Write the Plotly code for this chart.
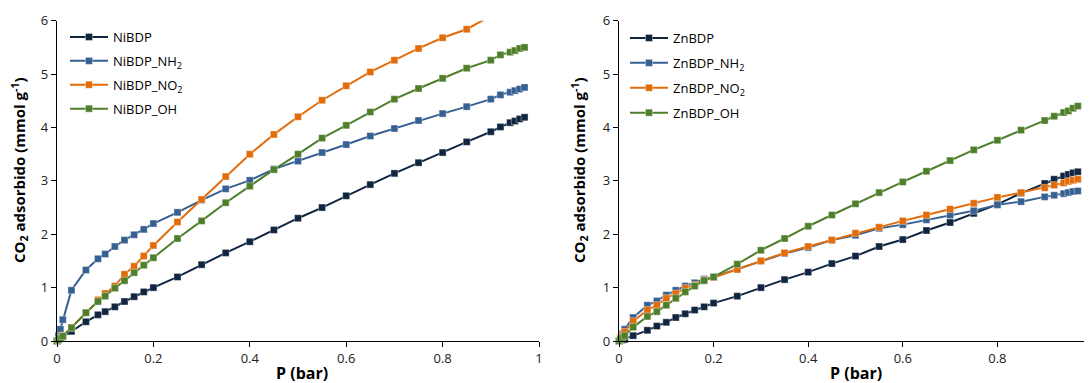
import plotly.graph_objects as go

# ---------------- data ----------------
p_ni = [0, 0.003, 0.007, 0.012, 0.03, 0.06, 0.085, 0.1, 0.12, 0.14, 0.16, 0.18, 0.2,
        0.25, 0.3, 0.35, 0.4, 0.45, 0.5, 0.55, 0.6, 0.65, 0.7, 0.75, 0.8, 0.85,
        0.9, 0.92, 0.94, 0.95, 0.96, 0.97]
nibdp = [0, 0.02, 0.05, 0.08, 0.18, 0.36, 0.49, 0.55, 0.64, 0.74, 0.83, 0.92, 1.0,
         1.2, 1.43, 1.65, 1.86, 2.08, 2.3, 2.5, 2.72, 2.93, 3.14, 3.34, 3.53, 3.73,
         3.92, 4.01, 4.09, 4.12, 4.16, 4.19]
nibdp_nh2 = [0, 0.1, 0.22, 0.4, 0.95, 1.33, 1.54, 1.63, 1.77, 1.89, 1.99, 2.09, 2.2,
             2.41, 2.64, 2.85, 3.01, 3.22, 3.37, 3.53, 3.68, 3.84, 3.98, 4.13, 4.26, 4.39,
             4.53, 4.61, 4.66, 4.69, 4.72, 4.75]
nibdp_no2 = [0, 0.03, 0.06, 0.1, 0.25, 0.53, 0.77, 0.89, 1.03, 1.25, 1.4, 1.59, 1.79,
             2.23, 2.65, 3.08, 3.5, 3.87, 4.2, 4.51, 4.78, 5.04, 5.26, 5.48, 5.68, 5.84,
             6.09, 6.14, 6.19, 6.21, 6.24, 6.27]
nibdp_oh = [0, 0.02, 0.05, 0.09, 0.25, 0.53, 0.74, 0.84, 0.99, 1.13, 1.28, 1.42, 1.56,
            1.92, 2.25, 2.59, 2.9, 3.21, 3.5, 3.8, 4.04, 4.29, 4.53, 4.73, 4.92, 5.11,
            5.26, 5.36, 5.41, 5.44, 5.48, 5.5]

p_zn = [0, 0.003, 0.007, 0.012, 0.03, 0.06, 0.08, 0.1, 0.12, 0.14, 0.16, 0.18, 0.2,
        0.25, 0.3, 0.35, 0.4, 0.45, 0.5, 0.55, 0.6, 0.65, 0.7, 0.75, 0.8, 0.85,
        0.9, 0.92, 0.94, 0.95, 0.96, 0.97]
znbdp = [0, 0.01, 0.02, 0.03, 0.1, 0.2, 0.28, 0.35, 0.44, 0.51, 0.58, 0.64, 0.71,
         0.84, 1.0, 1.15, 1.29, 1.45, 1.59, 1.77, 1.9, 2.07, 2.22, 2.39, 2.56, 2.77,
         2.95, 3.03, 3.09, 3.12, 3.15, 3.17]
znbdp_nh2 = [0, 0.06, 0.13, 0.22, 0.44, 0.67, 0.75, 0.86, 0.95, 1.03, 1.09, 1.16, 1.2,
             1.35, 1.5, 1.64, 1.75, 1.89, 1.98, 2.11, 2.18, 2.27, 2.36, 2.44, 2.55, 2.61,
             2.7, 2.73, 2.76, 2.78, 2.8, 2.81]
znbdp_no2 = [0, 0.05, 0.1, 0.17, 0.37, 0.58, 0.67, 0.8, 0.89, 0.99, 1.05, 1.14, 1.19,
             1.34, 1.5, 1.65, 1.77, 1.89, 2.02, 2.13, 2.25, 2.36, 2.47, 2.58, 2.69, 2.78,
             2.87, 2.92, 2.96, 2.99, 3.01, 3.03]
znbdp_oh = [0, 0.03, 0.06, 0.1, 0.26, 0.46, 0.55, 0.67, 0.8, 0.92, 1.03, 1.13, 1.2,
            1.44, 1.7, 1.92, 2.15, 2.36, 2.57, 2.78, 2.98, 3.18, 3.38, 3.58, 3.76, 3.95,
            4.13, 4.21, 4.28, 4.31, 4.36, 4.4]

tick_vals = [0, 0.2, 0.4, 0.6, 0.8, 1]
tick_text = ["0", "0.2", "0.4", "0.6", "0.8", "1"]

# ---------------- style ----------------
C_DARK = "#10253F"
C_BLUE = "#376092"
C_ORANGE = "#E36C0A"
C_GREEN = "#4F7F2A"
FONT = "'Open Sans', Lato, sans-serif"

fig = go.Figure()

left = [("NiBDP", nibdp, C_DARK),
        ("NiBDP_NH<sub>2</sub>", nibdp_nh2, C_BLUE),
        ("NiBDP_NO<sub>2</sub>", nibdp_no2, C_ORANGE),
        ("NiBDP_OH", nibdp_oh, C_GREEN)]
right = [("ZnBDP", znbdp, C_DARK),
         ("ZnBDP_NH<sub>2</sub>", znbdp_nh2, C_BLUE),
         ("ZnBDP_NO<sub>2</sub>", znbdp_no2, C_ORANGE),
         ("ZnBDP_OH", znbdp_oh, C_GREEN)]

for i, (name, ys, col) in enumerate(left):
    fig.add_trace(go.Scatter(
        x=p_ni, y=ys, name=name, mode="lines+markers",
        line=dict(color=col, width=2),
        marker=dict(symbol="square", size=7, color=col,
                    line=dict(width=0.6, color="rgba(255,255,255,0.6)")),
        xaxis="x", yaxis="y", legend="legend", legendgroup="L%d" % i,
        cliponaxis=(name.startswith("NiBDP_NO"))))

for i, (name, ys, col) in enumerate(right):
    fig.add_trace(go.Scatter(
        x=p_zn, y=ys, name=name, mode="lines+markers",
        line=dict(color=col, width=2),
        marker=dict(symbol="square", size=7, color=col,
                    line=dict(width=0.6, color="rgba(255,255,255,0.6)")),
        xaxis="x2", yaxis="y2", legend="legend2", legendgroup="R%d" % i,
        cliponaxis=False))

# page body adds an 8px offset; positions below are in figure pixels
W, H = 1092, 375
ydom = [1 - 333 / H, 1 - 12.7 / H]

axis_common = dict(showline=True, linecolor="#000", linewidth=1.2,
                   ticks="outside", ticklen=5, tickcolor="#000", tickwidth=1.2,
                   showgrid=False, zeroline=False, automargin=False,
                   tickfont=dict(family=FONT, size=13, color="#222"))

ytitle = "<b>CO<sub>2</sub> adsorbido (mmol g<sup>-1</sup>)</b>"
xtitle = "<b>P (bar)</b>"

annotations = []
for xc in (12, 572):
    annotations.append(dict(text=ytitle, x=xc / W, y=1 - 162 / H, xref="paper", yref="paper",
                            xanchor="center", yanchor="middle", textangle=-90, showarrow=False,
                            font=dict(family=FONT, size=15, color="#000")))
for xc in (294, 848):
    annotations.append(dict(text=xtitle, x=xc / W, y=1 - 365 / H, xref="paper", yref="paper",
                            xanchor="center", yanchor="middle", showarrow=False,
                            font=dict(family=FONT, size=16, color="#000")))

fig.update_layout(
    width=W, height=H,
    margin=dict(l=0, r=0, t=0, b=0, autoexpand=False),
    paper_bgcolor="white", plot_bgcolor="white",
    font=dict(family=FONT, size=13, color="#000"),
    xaxis=dict(domain=[49 / W, 531 / W], range=[0, 1], tickvals=tick_vals,
               ticktext=tick_text, anchor="y", **axis_common),
    yaxis=dict(domain=ydom, range=[0, 6], dtick=1, anchor="x", **axis_common),
    xaxis2=dict(domain=[611 / W, 1084 / W], range=[0, 1], tickvals=tick_vals,
                ticktext=tick_text, anchor="y2", **axis_common),
    yaxis2=dict(domain=ydom, range=[0, 6], dtick=1, anchor="x2", **axis_common),
    legend=dict(x=57 / W, y=1 - 14 / H, xanchor="left", yanchor="top",
                bgcolor="rgba(0,0,0,0)", tracegroupgap=4, itemwidth=38,
                font=dict(family=FONT, size=13, color="#000")),
    legend2=dict(x=617 / W, y=1 - 15 / H, xanchor="left", yanchor="top",
                 bgcolor="rgba(0,0,0,0)", tracegroupgap=5, itemwidth=38,
                 font=dict(family=FONT, size=13, color="#000")),
    annotations=annotations,
    showlegend=True,
)

fig.write_html("out.html")
